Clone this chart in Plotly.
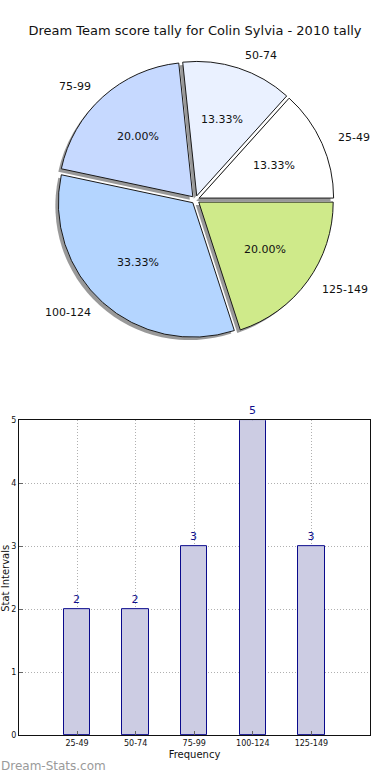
import math
import plotly.graph_objects as go

# ---- data ----
categories = ["25-49", "50-74", "75-99", "100-124", "125-149"]
counts = [2, 2, 3, 5, 3]
pie_colors = ["#ffffff", "#eaf1ff", "#c6d9ff", "#b4d5ff", "#cfea8a"]
y_ticks = [0, 1, 2, 3, 4, 5]
title_text = "Dream Team score tally for Colin Sylvia - 2010 tally"

W, H = 390, 780
PULL = 0.03

# pie geometry (pixels)
cx, cy, r = 195.5, 198.0, 136.0
half = r * (1 + PULL)


def px_x(x):
    return x / W


def px_y(y):
    return 1 - y / H


total = sum(counts)
# plotly: for counterclockwise pies, 'rotation' marks the ccw end of the first slice;
# we want the first slice to start at 3 o'clock (matplotlib startangle=0)
pie_rotation = 90 - 360 * counts[0] / total

pie_domain_x = [px_x(cx - half), px_x(cx + half)]
pie_domain_y = [px_y(cy + half), px_y(cy - half)]
sh = 3.0
shadow_domain_x = [px_x(cx - half - sh), px_x(cx + half - sh)]
shadow_domain_y = [px_y(cy + half + sh), px_y(cy - half + sh)]

fig = go.Figure()

# shadow pie
fig.add_trace(go.Pie(
    labels=categories, values=counts, sort=False,
    direction="counterclockwise", rotation=pie_rotation,
    pull=[PULL] * len(counts),
    marker=dict(colors=["rgba(70,70,70,0.55)"] * len(counts), line=dict(width=0)),
    textinfo="none", hoverinfo="skip", showlegend=False,
    domain=dict(x=shadow_domain_x, y=shadow_domain_y),
))

# main pie
fig.add_trace(go.Pie(
    labels=categories, values=counts, sort=False,
    direction="counterclockwise", rotation=pie_rotation,
    pull=[PULL] * len(counts),
    marker=dict(colors=pie_colors, line=dict(color="#1a1a1a", width=1)),
    textinfo="none", showlegend=False,
    domain=dict(x=pie_domain_x, y=pie_domain_y),
))

annotations = []
cum = 0
for lab, v in zip(categories, counts):
    mid = (cum + v / 2) / total * 2 * math.pi
    cum += v
    c, s = math.cos(mid), math.sin(mid)
    # percentage text
    d = (PULL + 0.6) * r
    annotations.append(dict(
        x=px_x(cx + d * c), y=px_y(cy - d * s), xref="paper", yref="paper",
        text=f"{v / total * 100:.2f}%", showarrow=False,
        xanchor="center", yanchor="middle",
        font=dict(family="DejaVu Sans", size=11, color="#111")))
    # category label
    d = (PULL + 1.1) * r
    annotations.append(dict(
        x=px_x(cx + d * c), y=px_y(cy - d * s), xref="paper", yref="paper",
        text=lab, showarrow=False,
        xanchor="left" if c > 0 else "right", yanchor="middle",
        font=dict(family="DejaVu Sans", size=11, color="#111")))

# bar chart
xs = list(range(len(categories)))
fig.add_trace(go.Bar(
    x=xs, y=counts, width=0.45,
    marker=dict(color="#ccccE3", line=dict(color="#0a0a8c", width=1)),
    text=[str(c) for c in counts], textposition="outside",
    textfont=dict(family="DejaVu Sans", size=11, color="#10108c"),
    cliponaxis=False, showlegend=False,
    xaxis="x", yaxis="y",
))

annotations.append(dict(
    x=px_x(5.5), y=px_y(581), xref="paper", yref="paper",
    text="Stat Intervals", textangle=-90, showarrow=False,
    xanchor="center", yanchor="middle",
    font=dict(family="DejaVu Sans", size=10, color="#111")))
annotations.append(dict(
    x=px_x(-1), y=px_y(771), xref="paper", yref="paper",
    text="Dream-Stats.com", showarrow=False,
    xanchor="left", yanchor="middle",
    font=dict(family="DejaVu Sans", size=12, color="#9a9a9a")))

fig.update_layout(
    width=W, height=H,
    margin=dict(l=0, r=0, t=0, b=0),
    paper_bgcolor="white", plot_bgcolor="white",
    title=dict(text=title_text, x=0.5, xanchor="center",
               y=px_y(30), yanchor="middle",
               font=dict(family="DejaVu Sans", size=13, color="#111")),
    xaxis=dict(
        domain=[px_x(19), px_x(370)], range=[-0.99, 5.0],
        tickvals=xs, ticktext=categories,
        tickfont=dict(family="DejaVu Sans", size=8, color="#111"),
        showgrid=True, gridcolor="#b0b0b0", griddash="1px,2px", gridwidth=1,
        showline=True, linecolor="#111", linewidth=1, mirror=True,
        ticks="inside", ticklen=4, tickcolor="#666",
        zeroline=False,
        title=dict(text="Frequency", standoff=3,
                   font=dict(family="DejaVu Sans", size=10, color="#111")),
        fixedrange=True,
    ),
    yaxis=dict(
        domain=[px_y(740), px_y(421)], range=[0, 5],
        tickvals=y_ticks,
        tickfont=dict(family="DejaVu Sans", size=8, color="#111"),
        showgrid=True, gridcolor="#b0b0b0", griddash="1px,2px", gridwidth=1,
        showline=True, linecolor="#111", linewidth=1, mirror=True,
        ticks="inside", ticklen=4, tickcolor="#666",
        zeroline=False, fixedrange=True,
    ),
    annotations=annotations,
    bargap=0,
)

fig.write_html(
    "out.html",
    config={"displayModeBar": False, "responsive": False},
    post_script=(
        "document.body.style.margin='0';"
        "document.body.style.overflow='hidden';"
        "document.documentElement.style.overflow='hidden';"
    ),
)
